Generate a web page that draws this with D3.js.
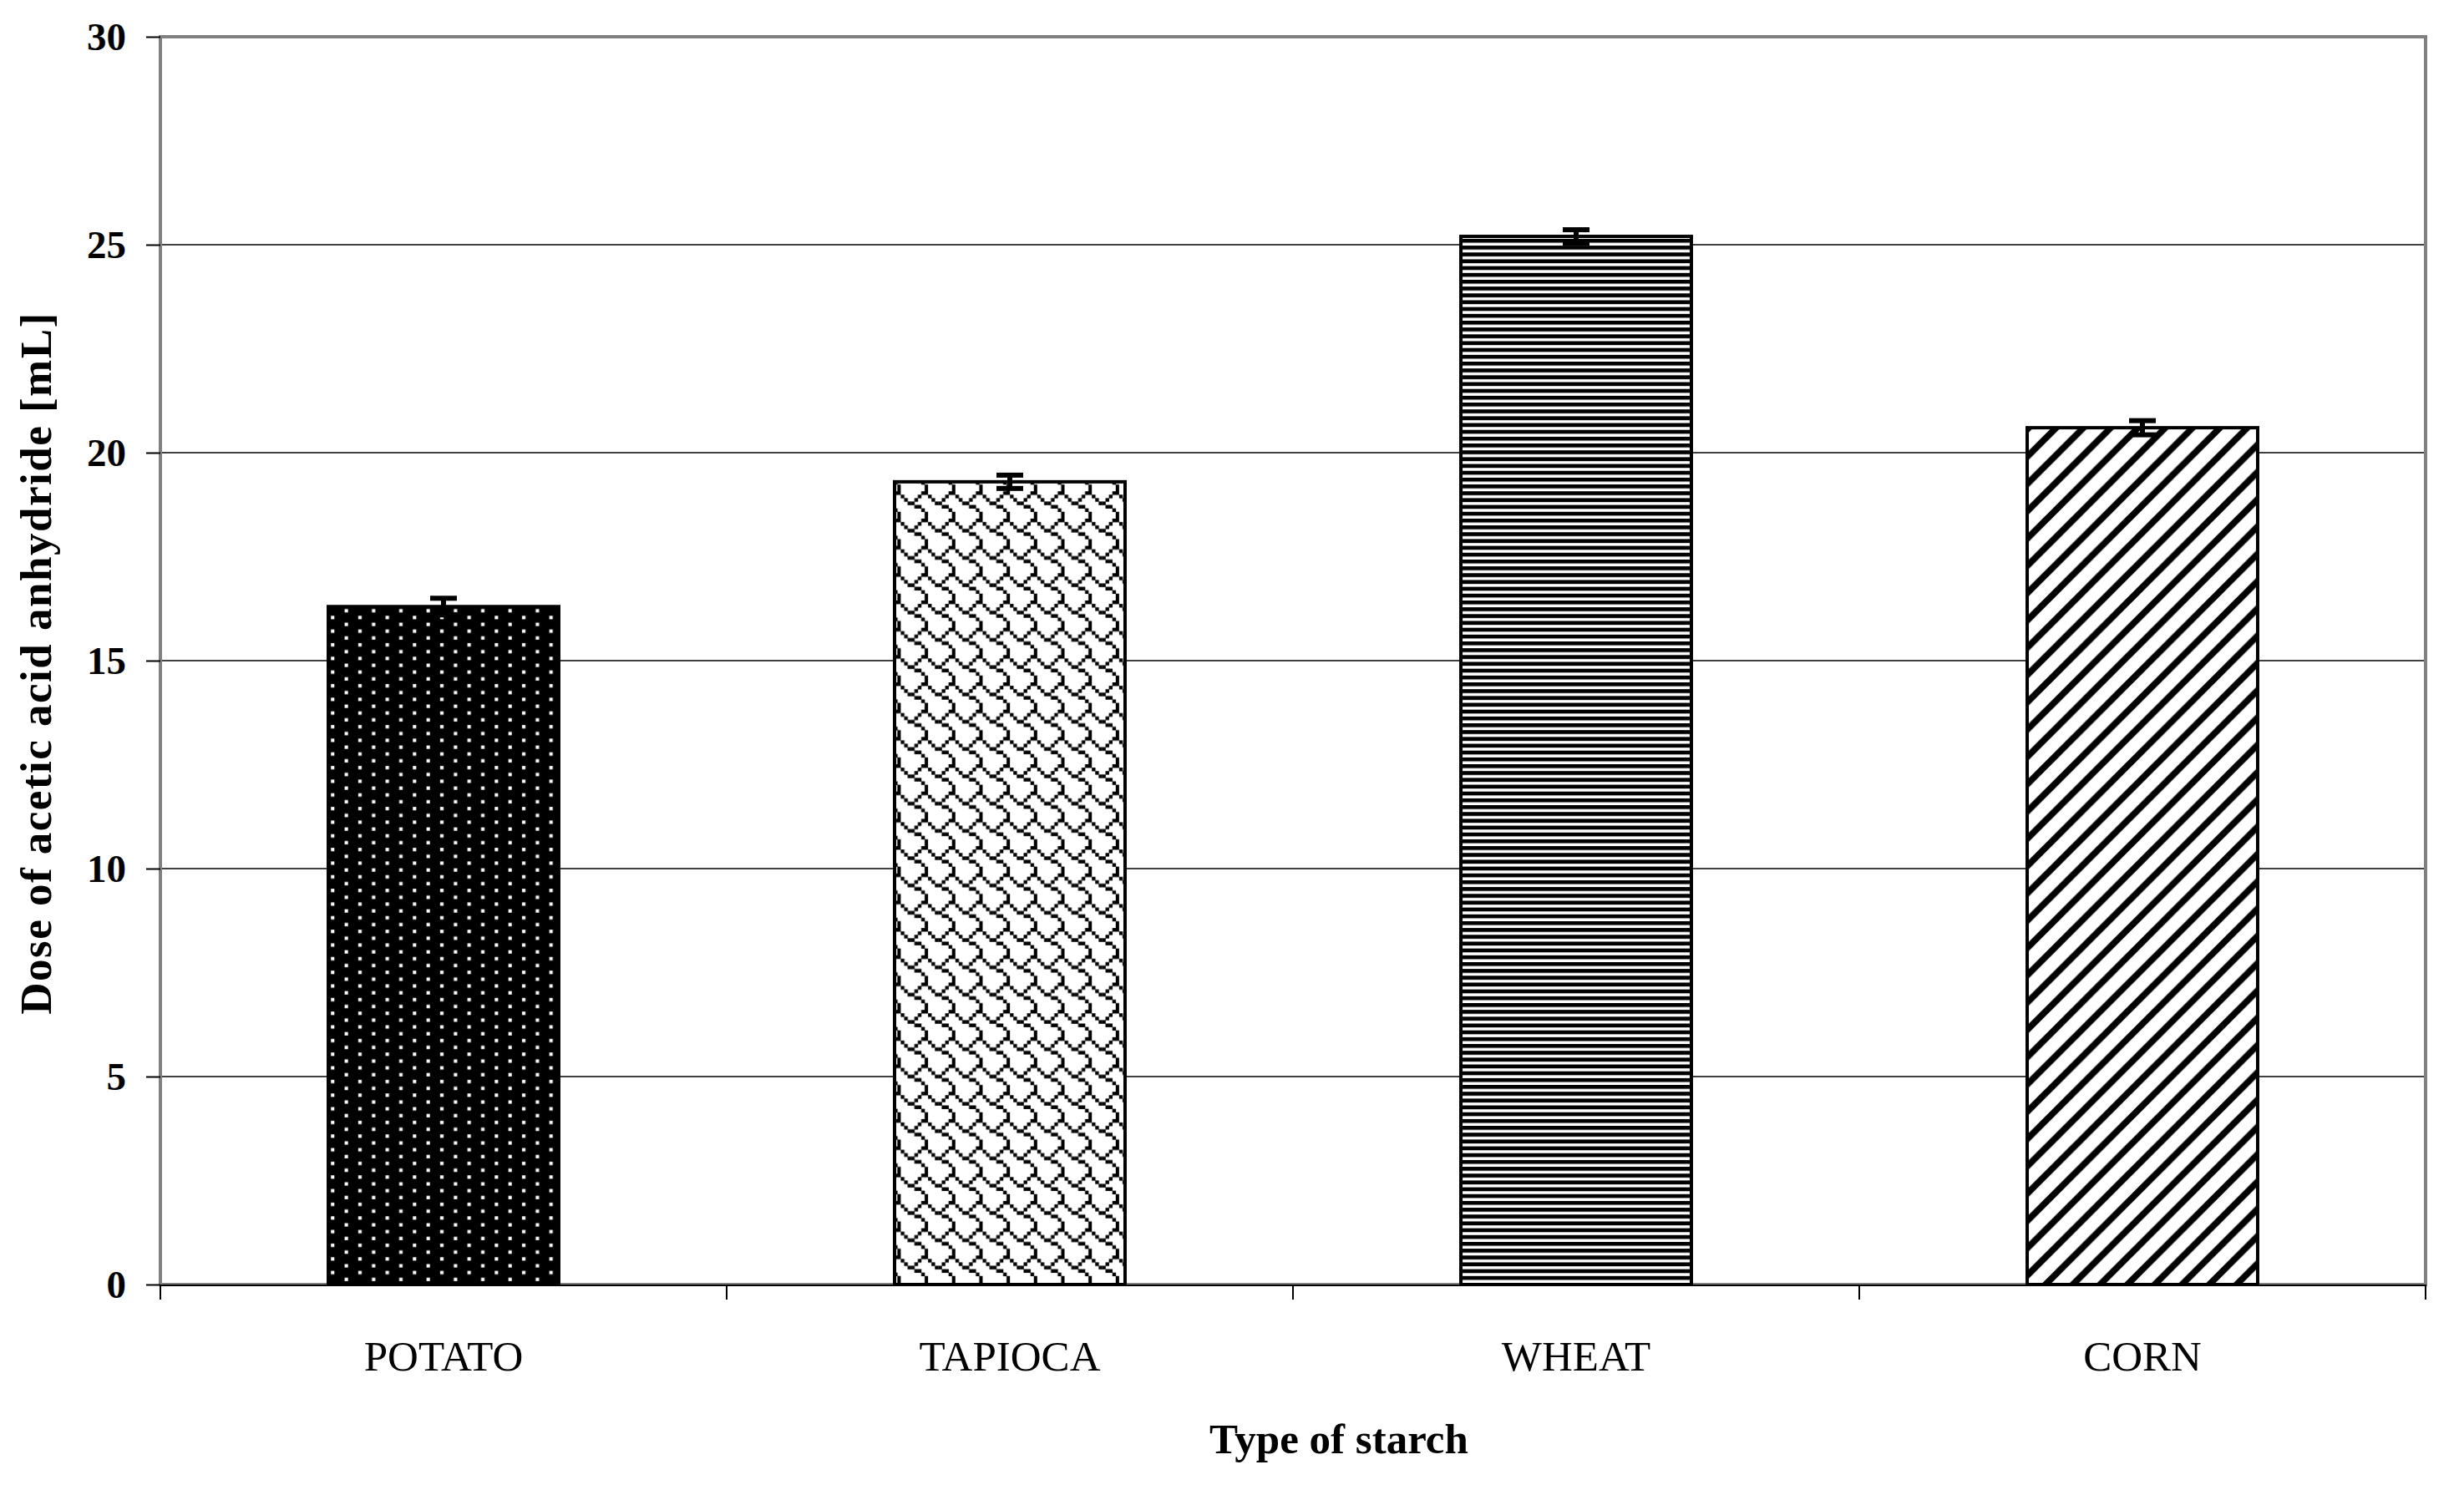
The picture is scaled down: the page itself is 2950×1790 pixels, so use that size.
<!DOCTYPE html>
<html>
<head>
<meta charset="utf-8">
<script src="https://cdn.jsdelivr.net/npm/d3@7"></script>
<style>
    body { margin: 0; background: white; }
</style>
</head>
<body>
<div id="chart"></div>
<script>
// Data
const starches = ["POTATO", "TAPIOCA", "WHEAT", "CORN"];
const doses = [16.3, 19.3, 25.2, 20.6];
const doseErrors = [0.2, 0.16, 0.16, 0.17];
const yTicks = [0, 5, 10, 15, 20, 25, 30];
const fills = ["url(#dots)", "url(#shingle)", "url(#hlines)", "url(#diag)"];

// Dimensions
let
    width = 2950,
    height = 1790;

let margin = {
    top: 44,
    bottom: 252,
    left: 192,
    right: 46
};

let svg = d3.select('#chart')
        .append('svg')
        .attr('width', width)
        .attr('height', height)
        .style('background', 'white')

// Fill patterns (Excel style 8x8 tiles, scaled up)
const u = 4.085;
const defs = svg.append('defs');

// black with white dots
let dots = defs.append('pattern')
    .attr('id', 'dots')
    .attr('patternUnits', 'userSpaceOnUse')
    .attr('width', 8 * u)
    .attr('height', 4 * u)
dots.append('rect').attr('width', 8 * u).attr('height', 4 * u).attr('fill', 'black')
dots.selectAll('rect.d')
    .data([[1, 0.5], [5, 2.5]])
    .enter().append('rect')
    .attr('class', 'd')
    .attr('x', d => d[0] * u)
    .attr('y', d => d[1] * u)
    .attr('width', u)
    .attr('height', u)
    .attr('fill', 'white')

// shingle
const shingleBits = [0x03, 0x84, 0x48, 0x30, 0x0c, 0x02, 0x01, 0x01];
let shingle = defs.append('pattern')
    .attr('id', 'shingle')
    .attr('patternUnits', 'userSpaceOnUse')
    .attr('width', 8 * u)
    .attr('height', 8 * u)
shingle.append('rect').attr('width', 8 * u).attr('height', 8 * u).attr('fill', 'white')
let shingleCells = [];
shingleBits.forEach((b, row) => {
    for (let col = 0; col < 8; col++) {
        if (b & (0x80 >> col)) shingleCells.push([col, row]);
    }
});
shingle.selectAll('rect.s')
    .data(shingleCells)
    .enter().append('rect')
    .attr('class', 's')
    .attr('x', d => d[0] * u)
    .attr('y', d => d[1] * u)
    .attr('width', u + 0.3)
    .attr('height', u + 0.3)
    .attr('fill', 'black')

// narrow horizontal lines
let hlines = defs.append('pattern')
    .attr('id', 'hlines')
    .attr('patternUnits', 'userSpaceOnUse')
    .attr('width', 8 * u)
    .attr('height', 2 * u)
hlines.append('rect').attr('width', 8 * u).attr('height', 2 * u).attr('fill', 'white')
hlines.append('rect').attr('width', 8 * u).attr('height', 1.15 * u).attr('fill', 'black')

// wide upward diagonal
let s = 8 * u;
let diag = defs.append('pattern')
    .attr('id', 'diag')
    .attr('patternUnits', 'userSpaceOnUse')
    .attr('width', s)
    .attr('height', s)
diag.append('rect').attr('width', s).attr('height', s).attr('fill', 'white')
diag.append('path')
    .attr('d', `M0,${s} L${s},0 M${-s / 2},${s / 2} L${s / 2},${-s / 2} M${s / 2},${s * 1.5} L${s * 1.5},${s / 2}`)
    .attr('stroke', 'black')
    .attr('stroke-width', 7.8)

// Scales
let xScale = d3.scaleBand()
            .domain(starches)
            .range([margin.left, width - margin.right])
            .paddingInner(0.593)
            .paddingOuter(0.593 / 2)

let yScale = d3.scaleLinear()
            .domain([0, 30])
            .range([height - margin.bottom, margin.top])

const x0 = margin.left, x1 = width - margin.right;
const yBase = yScale(0);

// Gridlines
svg.append('g')
    .selectAll('line')
    .data(yTicks.filter(t => t > 0 && t < 30))
    .enter().append('line')
    .attr('x1', x0)
    .attr('x2', x1)
    .attr('y1', d => yScale(d))
    .attr('y2', d => yScale(d))
    .attr('stroke', 'black')
    .attr('stroke-width', 1.5)

// Plot area border
svg.append('rect')
    .attr('x', x0)
    .attr('y', yScale(30))
    .attr('width', x1 - x0)
    .attr('height', yBase - yScale(30))
    .attr('fill', 'none')
    .attr('stroke', '#808080')
    .attr('stroke-width', 4)

// Y axis
let yAxis = svg.append('g')
    .attr('transform', `translate(${x0},0)`)
    .call(d3.axisLeft(yScale).tickValues(yTicks).tickSize(17).tickPadding(24))
yAxis.select('.domain').remove()
yAxis.selectAll('.tick line').attr('stroke', 'black').attr('stroke-width', 2)
yAxis.selectAll('.tick text')
    .style('font-family', '"Liberation Serif", "Times New Roman", serif')
    .style('font-weight', 'bold')
    .style('font-size', '47px')
    .attr('fill', 'black')

// X axis line and category ticks
svg.append('line')
    .attr('x1', x0)
    .attr('x2', x1)
    .attr('y1', yBase + 1)
    .attr('y2', yBase + 1)
    .attr('stroke', 'black')
    .attr('stroke-width', 2)

let gap = (xScale.step() - xScale.bandwidth()) / 2;
let bounds = starches.map(c => xScale(c) - gap).concat([x1]);
svg.append('g')
    .selectAll('line')
    .data(bounds)
    .enter().append('line')
    .attr('x1', d => d)
    .attr('x2', d => d)
    .attr('y1', yBase)
    .attr('y2', yBase + 18)
    .attr('stroke', 'black')
    .attr('stroke-width', 2)

svg.append('g')
    .selectAll('text')
    .data(starches)
    .enter().append('text')
    .attr('x', d => xScale(d) + xScale.bandwidth() / 2)
    .attr('y', 1641)
    .text(d => d)
    .style('text-anchor', 'middle')
    .style('font-family', '"Liberation Serif", "Times New Roman", serif')
    .style('font-size', '51px')

// Bars
svg.append('g')
    .selectAll('rect')
    .data(starches)
    .enter().append('rect')
    .attr('x', d => xScale(d))
    .attr('y', (d, i) => yScale(doses[i]))
    .attr('width', xScale.bandwidth())
    .attr('height', (d, i) => yBase - yScale(doses[i]))
    .attr('fill', (d, i) => fills[i])
    .attr('stroke', 'black')
    .attr('stroke-width', 4)

// Error bars
let err = svg.append('g')
    .selectAll('g')
    .data(starches)
    .enter().append('g')

err.append('line')
    .attr('x1', d => xScale(d) + xScale.bandwidth() / 2)
    .attr('x2', d => xScale(d) + xScale.bandwidth() / 2)
    .attr('y1', (d, i) => yScale(doses[i] - doseErrors[i]))
    .attr('y2', (d, i) => yScale(doses[i] + doseErrors[i]))
    .attr('stroke', 'black')
    .attr('stroke-width', 6)

err.selectAll('line.cap')
    .data((d, i) => [-1, 1].map(k => ({ c: d, v: doses[i] + k * doseErrors[i] })))
    .enter().append('line')
    .attr('class', 'cap')
    .attr('x1', d => xScale(d.c) + xScale.bandwidth() / 2 - 16)
    .attr('x2', d => xScale(d.c) + xScale.bandwidth() / 2 + 16)
    .attr('y1', d => yScale(d.v))
    .attr('y2', d => yScale(d.v))
    .attr('stroke', 'black')
    .attr('stroke-width', 6)

// Axis titles
svg.append('text')
    .attr('x', 1603)
    .attr('y', 1740)
    .text('Type of starch')
    .style('text-anchor', 'middle')
    .style('font-family', '"Liberation Serif", "Times New Roman", serif')
    .style('font-weight', 'bold')
    .style('font-size', '51px')

svg.append('text')
    .attr('transform', 'translate(61,794) rotate(-90)')
    .text('Dose of acetic acid anhydride [mL]')
    .style('text-anchor', 'middle')
    .style('font-family', '"Liberation Serif", "Times New Roman", serif')
    .style('font-weight', 'bold')
    .style('font-size', '53px')
    .style('letter-spacing', '1.5px')
</script>
</body>
</html>
